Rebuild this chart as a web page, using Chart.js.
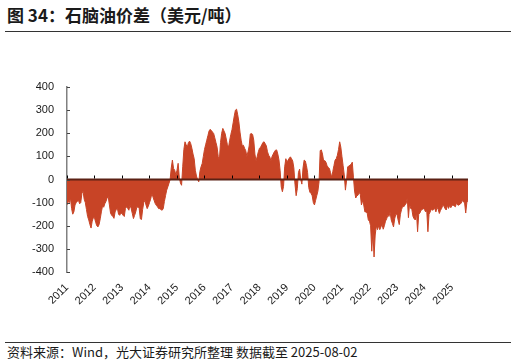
<!DOCTYPE html>
<html>
<head>
<meta charset="utf-8">
<script src="https://cdn.jsdelivr.net/npm/chart.js@4.4.1/dist/chart.umd.min.js"></script>
<style>
  body { margin: 0; width: 516px; height: 364px; background: #fff; position: relative; overflow: hidden; font-family: "Noto Sans CJK SC", sans-serif; color: #1a1a1a; }
  #title { position: absolute; left: 7px; top: 5px; font-size: 17px; line-height: 20px; font-weight: bold; white-space: nowrap; }
  .rule { position: absolute; left: 5px; width: 506px; height: 1px; background: #333; }
  #src { position: absolute; left: 7px; top: 344px; font-size: 13px; line-height: 16px; white-space: nowrap; }
  #wrap { position: absolute; left: 0; top: 40px; width: 516px; height: 300px; }
</style>
</head>
<body>
<div id="title">图 34：石脑油价差（美元/吨）</div>
<div class="rule" style="top:31px"></div>
<div id="wrap"><canvas id="spreadChart" width="516" height="300"></canvas></div>
<div class="rule" style="top:342px"></div>
<div id="src">资料来源：Wind，光大证券研究所整理 数据截至 2025-08-02</div>
<script>
// naphtha spread, USD/t, two readings per month
const spread2011 = [-110, -95, -100, -80, -125, -150, -140, -110, -100, -95, -90, -105, -100, -60, -50, -85, -100, -130, -160, -175, -195, -210, -180, -165];
const spread2012 = [-165, -185, -200, -205, -195, -170, -140, -115, -120, -105, -95, -80, -75, -110, -145, -155, -160, -168, -140, -130, -125, -150, -155, -145];
const spread2013 = [-147, -155, -160, -125, -118, -125, -133, -111, -125, -147, -169, -155, -140, -118, -120, -125, -170, -173, -130, -100, -90, -111, -126, -115];
const spread2014 = [-100, -85, -62, -75, -90, -104, -112, -118, -126, -126, -130, -133, -126, -95, -70, -46, -32, -17, 0, 50, 84, 48, 40, 20];
const spread2015 = [40, 70, 10, -15, -25, 55, 130, 163, 150, 140, 160, 166, 155, 135, 110, 90, 40, 15, 0, -10, 35, 55, 69, 100];
const spread2016 = [130, 150, 170, 190, 210, 217, 212, 205, 199, 180, 160, 140, 100, 85, 160, 200, 221, 210, 199, 175, 150, 140, 170, 195];
const spread2017 = [215, 245, 275, 300, 304, 280, 250, 205, 170, 145, 148, 135, 125, 100, 120, 145, 197, 199, 195, 170, 110, 80, 100, 120];
const spread2018 = [135, 140, 150, 160, 163, 155, 145, 120, 105, 98, 80, 100, 110, 120, 127, 128, 110, 85, 40, -32, -53, -30, 55, 90];
const spread2019 = [75, 84, 92, 98, 90, 80, 50, -20, -70, -40, 30, 45, 0, -20, 50, 84, 80, 60, 30, -35, -55, -60, -70, -100];
const spread2020 = [-110, -90, -70, -50, -10, 125, 128, 110, 80, 82, 75, 60, 52, 48, 30, 10, 35, 60, 84, 90, 105, 130, 163, 140];
const spread2021 = [98, 60, 20, -46, -5, 55, 58, 62, 66, 75, 10, -50, -80, -70, -68, -55, -65, -110, -90, -110, -140, -140, -145, -175];
const spread2022 = [-180, -200, -310, -225, -335, -240, -200, -217, -200, -217, -205, -195, -215, -200, -180, -170, -155, -160, -140, -175, -190, -205, -170, -150];
const spread2023 = [-150, -175, -195, -150, -130, -115, -118, -110, -104, -80, -165, -105, -125, -130, -160, -170, -175, -140, -226, -150, -145, -133, -130, -126];
const spread2024 = [-130, -140, -135, -226, -150, -140, -128, -133, -130, -125, -140, -120, -130, -147, -133, -125, -111, -115, -126, -132, -111, -125, -112, -122];
const spread2025 = [-112, -110, -115, -118, -100, -110, -111, -106, -103, -90, -97, -100, -145, -100, -88];

const yearTicks = [2011, 2012, 2013, 2014, 2015, 2016, 2017, 2018, 2019, 2020, 2021, 2022, 2023, 2024, 2025];
const startYear = 2011;
const pointsPerYear = 24;

const spread = [].concat(spread2011, spread2012, spread2013, spread2014, spread2015, spread2016, spread2017,
    spread2018, spread2019, spread2020, spread2021, spread2022, spread2023, spread2024, spread2025);
const points = spread.map((v, i) => ({ x: startYear + i / pointsPerYear, y: v }));

const labelFont = { family: '"Liberation Sans", Arial, sans-serif', size: 11 };

// zero line with small year ticks, and inward ticks on the y axis
const zeroAxisPlugin = {
    id: 'zeroAxis',
    afterDatasetsDraw(chart) {
        const { ctx, chartArea, scales } = chart;
        const y0 = scales.y.getPixelForValue(0);
        ctx.save();
        ctx.strokeStyle = '#5b2114';
        ctx.lineWidth = 2;
        ctx.beginPath();
        ctx.moveTo(chartArea.left, y0);
        ctx.lineTo(chartArea.right, y0);
        ctx.stroke();

        ctx.strokeStyle = '#000';
        ctx.lineWidth = 1;
        yearTicks.forEach(yr => {
            const px = Math.round(scales.x.getPixelForValue(yr)) + 0.5;
            ctx.beginPath();
            ctx.moveTo(px, y0 - 1);
            ctx.lineTo(px, y0 - 4);
            ctx.stroke();
        });

        ctx.strokeStyle = '#444';
        scales.y.ticks.forEach(t => {
            const py = Math.round(scales.y.getPixelForValue(t.value)) + 0.5;
            ctx.beginPath();
            ctx.moveTo(chartArea.left, py);
            ctx.lineTo(chartArea.left + 3, py);
            ctx.stroke();
        });
        ctx.restore();
    }
};

new Chart(document.getElementById('spreadChart'), {
    type: 'line',
    data: {
        datasets: [{
            data: points,
            borderColor: '#C84426',
            backgroundColor: '#C84426',
            borderWidth: 1,
            pointRadius: 0,
            tension: 0,
            fill: 'origin'
        }]
    },
    options: {
        responsive: false,
        animation: false,
        devicePixelRatio: 1,
        layout: { padding: { left: 0, right: 48, top: 47, bottom: 0 } },
        plugins: { legend: { display: false }, tooltip: { enabled: false } },
        scales: {
            x: {
                type: 'linear',
                min: startYear,
                max: points[points.length - 1].x,
                afterBuildTicks: s => { s.ticks = yearTicks.map(v => ({ value: v })); },
                afterFit: s => { s.height = 68; },
                grid: { display: false, drawTicks: false },
                border: { display: false },
                ticks: {
                    autoSkip: false, maxRotation: 45, minRotation: 45, padding: 9,
                    color: '#1a1a1a', font: labelFont,
                    callback: v => String(v)
                }
            },
            y: {
                min: -400,
                max: 400,
                afterFit: s => { s.width = 67; },
                grid: { display: false, drawTicks: false },
                border: { display: true, color: '#808080', width: 1.5 },
                ticks: { stepSize: 100, padding: 13, color: '#1a1a1a', font: labelFont }
            }
        }
    },
    plugins: [zeroAxisPlugin]
});
</script>
</body>
</html>
